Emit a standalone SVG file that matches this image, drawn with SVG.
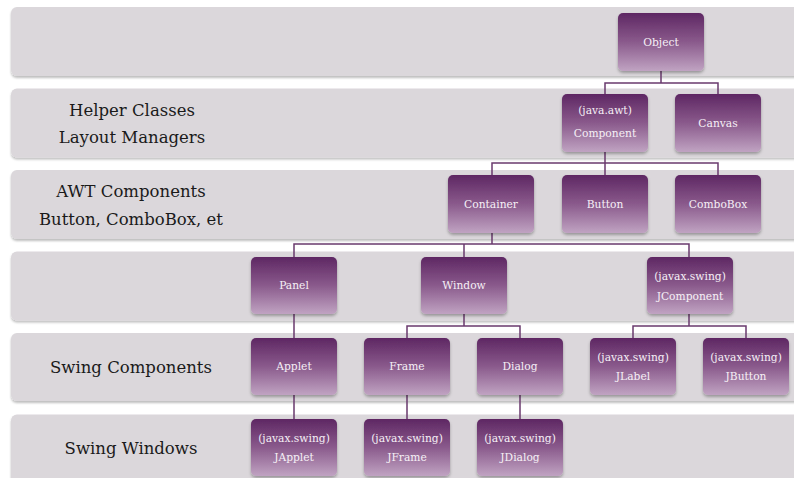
<svg xmlns="http://www.w3.org/2000/svg" width="794" height="478" viewBox="0 0 794 478">
<defs>
<linearGradient id="ng" x1="0" y1="0" x2="0" y2="1">
<stop offset="0" stop-color="#5e2763"/>
<stop offset="0.5" stop-color="#8a5a8c"/>
<stop offset="1" stop-color="#c0a3c2"/>
</linearGradient>
<filter id="ds" x="-10%" y="-10%" width="125%" height="130%">
<feDropShadow dx="0" dy="2" stdDeviation="1.5" flood-color="#000" flood-opacity="0.3"/>
</filter>
<filter id="bs" x="-5%" y="-10%" width="110%" height="130%">
<feDropShadow dx="0" dy="2" stdDeviation="1.2" flood-color="#000" flood-opacity="0.25"/>
</filter>
</defs>
<style>
.band{fill:#dbd7db;filter:url(#bs)}
.node{fill:url(#ng);filter:url(#ds)}
.lbl{font-family:"DejaVu Serif",serif;font-size:16.5px;fill:#1a1a1a;text-anchor:middle}
.nt{font-family:"DejaVu Serif",serif;font-size:10.7px;fill:#f6f0f6;text-anchor:middle}
.con{fill:none;stroke:#6a3a6e;stroke-width:1.5}
</style>
<rect width="794" height="478" fill="#ffffff"/>
<g id="bands">
<rect class="band" x="11" y="7" width="800" height="69" rx="6"/>
<rect class="band" x="11" y="88.5" width="800" height="69" rx="6"/>
<rect class="band" x="11" y="170" width="800" height="69" rx="6"/>
<rect class="band" x="11" y="251.5" width="800" height="69" rx="6"/>
<rect class="band" x="11" y="333" width="800" height="68" rx="6"/>
<rect class="band" x="11" y="414.5" width="800" height="80" rx="6"/>
</g>
<g id="labels">
<text class="lbl" x="132" y="116">Helper Classes</text>
<text class="lbl" x="132" y="143">Layout Managers</text>
<text class="lbl" x="131" y="197">AWT Components</text>
<text class="lbl" x="131" y="225">Button, ComboBox, et</text>
<text class="lbl" x="131" y="373">Swing Components</text>
<text class="lbl" x="131" y="454">Swing Windows</text>
</g>
<g id="connectors">
<path class="con" d="M661,71 V83 M605,94 V83 H718 V94"/>
<path class="con" d="M605,152 V163 M492,175 V163 H718 V175 M605,163 V175"/>
<path class="con" d="M492,233 V244 M294,257 V244 H689 V257 M464,244 V257"/>
<path class="con" d="M294,314 V338 M294,395 V419"/>
<path class="con" d="M464,314 V326 M407,338 V326 H520 V338"/>
<path class="con" d="M689,314 V326 M633,338 V326 H746 V338"/>
<path class="con" d="M407,395 V419 M520,395 V419"/>
</g>
<g id="n-object"><rect class="node" x="618" y="13" width="86" height="58" rx="5"/><text class="nt" x="661" y="45.5">Object</text></g>
<g id="n-component"><rect class="node" x="562" y="94" width="86" height="58" rx="5"/><text class="nt" x="605" y="114">(java.awt)</text><text class="nt" x="605" y="137">Component</text></g>
<g id="n-canvas"><rect class="node" x="675" y="94" width="86" height="58" rx="5"/><text class="nt" x="718" y="126.5">Canvas</text></g>
<g id="n-container"><rect class="node" x="448" y="175" width="86" height="58" rx="5"/><text class="nt" x="491" y="207.5">Container</text></g>
<g id="n-button"><rect class="node" x="562" y="175" width="86" height="58" rx="5"/><text class="nt" x="605" y="207.5">Button</text></g>
<g id="n-combobox"><rect class="node" x="675" y="175" width="86" height="58" rx="5"/><text class="nt" x="718" y="207.5">ComboBox</text></g>
<g id="n-panel"><rect class="node" x="251" y="257" width="86" height="57" rx="5"/><text class="nt" x="294" y="289">Panel</text></g>
<g id="n-window"><rect class="node" x="421" y="257" width="86" height="57" rx="5"/><text class="nt" x="464" y="289">Window</text></g>
<g id="n-jcomponent"><rect class="node" x="647" y="257" width="86" height="57" rx="5"/><text class="nt" x="690" y="280">(javax.swing)</text><text class="nt" x="690" y="299.5">JComponent</text></g>
<g id="n-applet"><rect class="node" x="251" y="338" width="86" height="57" rx="5"/><text class="nt" x="294" y="370">Applet</text></g>
<g id="n-frame"><rect class="node" x="364" y="338" width="86" height="57" rx="5"/><text class="nt" x="407" y="370">Frame</text></g>
<g id="n-dialog"><rect class="node" x="477" y="338" width="86" height="57" rx="5"/><text class="nt" x="520" y="370">Dialog</text></g>
<g id="n-jlabel"><rect class="node" x="590" y="338" width="86" height="57" rx="5"/><text class="nt" x="633" y="361">(javax.swing)</text><text class="nt" x="633" y="380">JLabel</text></g>
<g id="n-jbutton"><rect class="node" x="703" y="338" width="86" height="57" rx="5"/><text class="nt" x="746" y="361">(javax.swing)</text><text class="nt" x="746" y="380">JButton</text></g>
<g id="n-japplet"><rect class="node" x="251" y="419" width="86" height="57" rx="5"/><text class="nt" x="294" y="442">(javax.swing)</text><text class="nt" x="294" y="461">JApplet</text></g>
<g id="n-jframe"><rect class="node" x="364" y="419" width="86" height="57" rx="5"/><text class="nt" x="407" y="442">(javax.swing)</text><text class="nt" x="407" y="461">JFrame</text></g>
<g id="n-jdialog"><rect class="node" x="477" y="419" width="86" height="57" rx="5"/><text class="nt" x="520" y="442">(javax.swing)</text><text class="nt" x="520" y="461">JDialog</text></g>
</svg>
